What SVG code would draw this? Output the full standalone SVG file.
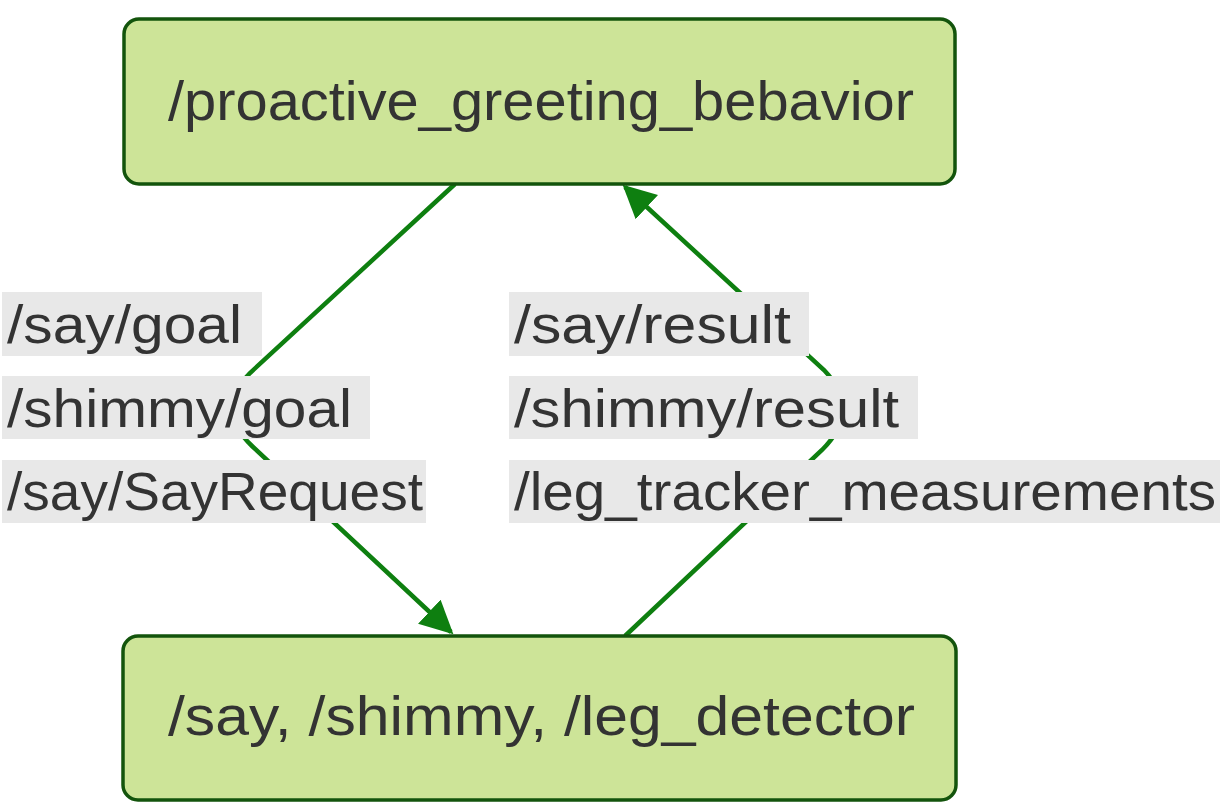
<svg xmlns="http://www.w3.org/2000/svg" width="1222" height="808" viewBox="0 0 1222 808">
<style>
.node rect{fill:#cde498;stroke:#13540c;stroke-width:3.5}
.ntext{font-family:"Liberation Sans",Arial,sans-serif;font-size:56px;fill:#333}
.lbl rect{fill:#e8e8e8}
.ltext{font-family:"Liberation Sans",Arial,sans-serif;font-size:53px;fill:#333}
.edge{fill:none;stroke:#0e7f10;stroke-width:4.5}
</style>
<defs>
<marker id="arr" viewBox="0 0 10 10" refX="9" refY="5" markerWidth="33" markerHeight="33" markerUnits="userSpaceOnUse" orient="auto">
<path d="M0,0 L10,5 L0,10 z" fill="#0e7f10"/>
</marker>
</defs>
<g id="connectors">
<path class="edge" d="M455,184 L250,373 Q214,410 252,446 L451,632" marker-end="url(#arr)"/>
<path class="edge" d="M625,636 L822,450 Q862,410 824,370 L625,187" marker-end="url(#arr)"/>
</g>
<g id="node-top" class="node">
<rect x="124" y="19" width="831" height="165" rx="15"/>
<text class="ntext" x="168" y="120" textLength="746" lengthAdjust="spacingAndGlyphs">/proactive_greeting_bebavior</text>
</g>
<g id="node-bottom" class="node">
<rect x="123" y="636" width="833" height="164" rx="15"/>
<text class="ntext" x="168" y="735" textLength="747" lengthAdjust="spacingAndGlyphs">/say, /shimmy, /leg_detector</text>
</g>
<g id="labels-left" class="lbl">
<rect x="2" y="292" width="260" height="64"/>
<rect x="2" y="376" width="368" height="63"/>
<rect x="2" y="460" width="424" height="63"/>
<text class="ltext" x="7" y="343" textLength="235" lengthAdjust="spacingAndGlyphs">/say/goal</text>
<text class="ltext" x="7" y="427" textLength="345" lengthAdjust="spacingAndGlyphs">/shimmy/goal</text>
<text class="ltext" x="7" y="510" textLength="416" lengthAdjust="spacingAndGlyphs">/say/SayRequest</text>
</g>
<g id="labels-right" class="lbl">
<rect x="509" y="292" width="300" height="64"/>
<rect x="509" y="376" width="409" height="63"/>
<rect x="509" y="460" width="711" height="63"/>
<text class="ltext" x="514" y="343" textLength="277" lengthAdjust="spacingAndGlyphs">/say/result</text>
<text class="ltext" x="514" y="427" textLength="385" lengthAdjust="spacingAndGlyphs">/shimmy/result</text>
<text class="ltext" x="514" y="510" textLength="702" lengthAdjust="spacingAndGlyphs">/leg_tracker_measurements</text>
</g>
</svg>
